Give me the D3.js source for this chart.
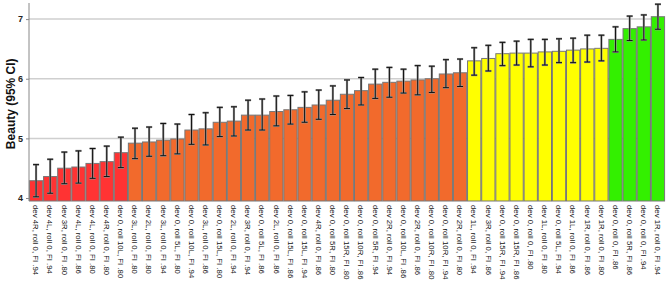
<!DOCTYPE html>
<meta charset="utf-8">
<script src="https://d3js.org/d3.v7.min.js"></script>
<style type="text/css">
body { margin: 0; background: #fff; }
.grafico { font-family: "Liberation Sans", Arial, sans-serif; }
.grafico .grid line { stroke: #cfcfcf; stroke-width: 1.5; }
.grafico .eixo path, .grafico .eixo line { stroke: #888; }
.grafico .eixoy text { font-size: 9px; font-weight: bold; fill: #222; }
.grafico .eixox text { font-size: 7.8px; fill: #111; }
.grafico .barra { stroke: #777; stroke-width: 1; }
</style>
<body>
<div id="canvas"></div>
<script>

// rótulos das barras (ordem do gráfico)
var categorias = [
  "dev 4R, roll 0, FI .94", "dev 4L, roll 0, FI .94", "dev 3R, roll 0, FI .80",
  "dev 4L, roll 0, FI .86", "dev 4L, roll 0, FI .80", "dev 4R, roll 0, FI .80",
  "dev 0, roll 10L, FI .80", "dev 3L, roll 0, FI .80", "dev 2L, roll 0, FI .80",
  "dev 3L, roll 0, FI .94", "dev 0, roll 5L, FI .80", "dev 0, roll 10L, FI .94",
  "dev 3L, roll 0, FI .86", "dev 0, roll 15L, FI .80", "dev 2L, roll 0, FI .94",
  "dev 3R, roll 0, FI .94", "dev 0, roll 5L, FI .86", "dev 2L, roll 0, FI .86",
  "dev 0, roll 15L, FI .86", "dev 0, roll 15L, FI .94", "dev 4R, roll 0, FI .86",
  "dev 0, roll 5R, FI .80", "dev 0, roll 15R, FI .80", "dev 0, roll 10R, FI .86",
  "dev 0, roll 5R, FI .94", "dev 2R, roll 0, FI .94", "dev 0, roll 10L, FI .86",
  "dev 2R, roll 0, FI .86", "dev 0, roll 10R, FI .80", "dev 0, roll 10R, FI .94",
  "dev 2R, roll 0, FI .80", "dev 1L, roll 0, FI .94", "dev 3R, roll 0, FI .86",
  "dev 0, roll 15R, FI .94", "dev 0, roll 15R, FI .86", "dev 0, roll 0, FI .80",
  "dev 1L, roll 0, FI .80", "dev 0, roll 5L, FI .94", "dev 1L, roll 0, FI .86",
  "dev 1R, roll 0, FI .86", "dev 1R, roll 0, FI .80", "dev 0, roll 0, FI .86",
  "dev 0, roll 5R, FI .86", "dev 0, roll 0, FI .94", "dev 1R, roll 0, FI .94"
];

// média
var medias = [
  4.29, 4.36, 4.50, 4.52, 4.58, 4.61, 4.76, 4.92, 4.94, 4.97, 4.99, 5.14, 5.16, 5.27, 5.29,
  5.39, 5.39, 5.45, 5.48, 5.52, 5.56, 5.64, 5.74, 5.80, 5.91, 5.94, 5.96, 5.98, 6.00, 6.08,
  6.10, 6.30, 6.34, 6.42, 6.43, 6.43, 6.45, 6.46, 6.48, 6.50, 6.51, 6.66, 6.84, 6.87, 7.04
];

// IC 95% inferior e superior
var icInf = [
  4.02, 4.08, 4.24, 4.25, 4.33, 4.36, 4.51, 4.66, 4.70, 4.71, 4.74, 4.90, 4.89, 5.03, 5.04,
  5.14, 5.14, 5.21, 5.24, 5.27, 5.32, 5.40, 5.50, 5.56, 5.67, 5.69, 5.76, 5.73, 5.77, 5.85,
  5.87, 6.06, 6.13, 6.22, 6.23, 6.20, 6.23, 6.27, 6.27, 6.28, 6.30, 6.45, 6.64, 6.65, 6.83
];
var icSup = [
  4.56, 4.65, 4.77, 4.79, 4.83, 4.87, 5.02, 5.17, 5.19, 5.25, 5.24, 5.40, 5.43, 5.52, 5.53,
  5.64, 5.66, 5.71, 5.72, 5.78, 5.81, 5.88, 5.98, 6.02, 6.16, 6.19, 6.16, 6.22, 6.21, 6.32,
  6.33, 6.52, 6.56, 6.61, 6.63, 6.66, 6.66, 6.67, 6.68, 6.73, 6.73, 6.87, 7.05, 7.07, 7.25
];

// grupo de cor de cada barra
var grupos = [
  "r","r","r","r","r","r","r",
  "o","o","o","o","o","o","o","o","o","o","o","o","o","o","o","o","o","o","o","o","o","o","o","o",
  "y","y","y","y","y","y","y","y","y","y",
  "g","g","g","g"
];
var coresGrupo = { r: "#ff3333", o: "#f26a2c", y: "#ffff00", g: "#33f000" };

var ticksY = [4, 5, 6, 7];

var width = 669;
var height = 283;
var margin = {top: 3, right: 4, bottom: 82, left: 29};

var svg = d3.select('#canvas')
  .append("svg")
  .attr("width", width)
  .attr("height", height);

var g = svg.append("g")
  .attr("class", "grafico")
  .attr("transform", "translate(" + margin.left + "," + margin.top + ")");

var w = width - margin.left - margin.right;
var h = height - margin.top - margin.bottom;

var dados = categorias.map(function(c, i) {
  return { cat: c, m: medias[i], lo: icInf[i], hi: icSup[i], grupo: grupos[i] };
});

// eixo X ----------------------------------------------------------
var x = d3.scaleBand()
  .domain(categorias)
  .range([0, w])
  .paddingInner(0.06)
  .paddingOuter(0.03);

// eixo Y ----------------------------------------------------------
var y = d3.scaleLinear()
  .domain([3.95, 7.27])
  .range([h, 0]);

// grade
g.append("g")
  .attr("class", "grid")
  .selectAll("line")
  .data(ticksY.slice(1))
  .enter().append("line")
  .attr("x1", 0)
  .attr("x2", w)
  .attr("y1", function(d) { return y(d); })
  .attr("y2", function(d) { return y(d); });

// barras
g.selectAll(".barra")
  .data(dados)
  .enter().append("rect")
  .attr("class", "barra")
  .attr("x", function(d) { return x(d.cat); })
  .attr("y", function(d) { return y(d.m); })
  .attr("width", x.bandwidth())
  .attr("height", function(d) { return h - y(d.m); })
  .attr("fill", function(d) { return coresGrupo[d.grupo]; });

// barras de erro
var erro = g.selectAll(".erro")
  .data(dados)
  .enter().append("g")
  .attr("class", "erro")
  .attr("transform", function(d) { return "translate(" + (x(d.cat) + x.bandwidth() / 2) + ",0)"; });

[["#999", 2.2], ["#111", 1]].forEach(function(s) {
  erro.append("line")
    .attr("y1", function(d) { return y(d.lo); })
    .attr("y2", function(d) { return y(d.hi); })
    .attr("stroke", s[0]).attr("stroke-width", s[1]);
  erro.append("line")
    .attr("x1", -3).attr("x2", 3)
    .attr("y1", function(d) { return y(d.hi); })
    .attr("y2", function(d) { return y(d.hi); })
    .attr("stroke", s[0]).attr("stroke-width", s[1]);
  erro.append("line")
    .attr("x1", -3).attr("x2", 3)
    .attr("y1", function(d) { return y(d.lo); })
    .attr("y2", function(d) { return y(d.lo); })
    .attr("stroke", s[0]).attr("stroke-width", s[1]);
});

// eixo y
g.append("g")
  .attr("class", "eixo eixoy")
  .call(d3.axisLeft(y).tickValues(ticksY).tickSize(3).tickPadding(3).tickFormat(d3.format("d")))
  .call(function(a) { a.select(".domain").attr("d", "M0," + h + "V0"); });

// eixo x
var ex = g.append("g")
  .attr("class", "eixo eixox")
  .attr("transform", "translate(0," + h + ")")
  .call(d3.axisBottom(x).tickSize(0).tickPadding(0))
  .call(function(a) { a.select(".domain").remove(); });

ex.selectAll("text")
  .attr("transform", "rotate(90)")
  .attr("x", 4)
  .attr("y", 0)
  .attr("dy", "0.35em")
  .style("text-anchor", "start");

// título do eixo y
svg.append("text")
  .attr("transform", "translate(15," + (margin.top + y(5.58)) + ") rotate(-90)")
  .style("text-anchor", "middle")
  .style("font-family", "Liberation Sans, Arial, sans-serif")
  .style("font-size", "12px")
  .style("font-weight", "bold")
  .attr("fill", "#111")
  .text("Beauty (95% CI)");

</script>
</body>
